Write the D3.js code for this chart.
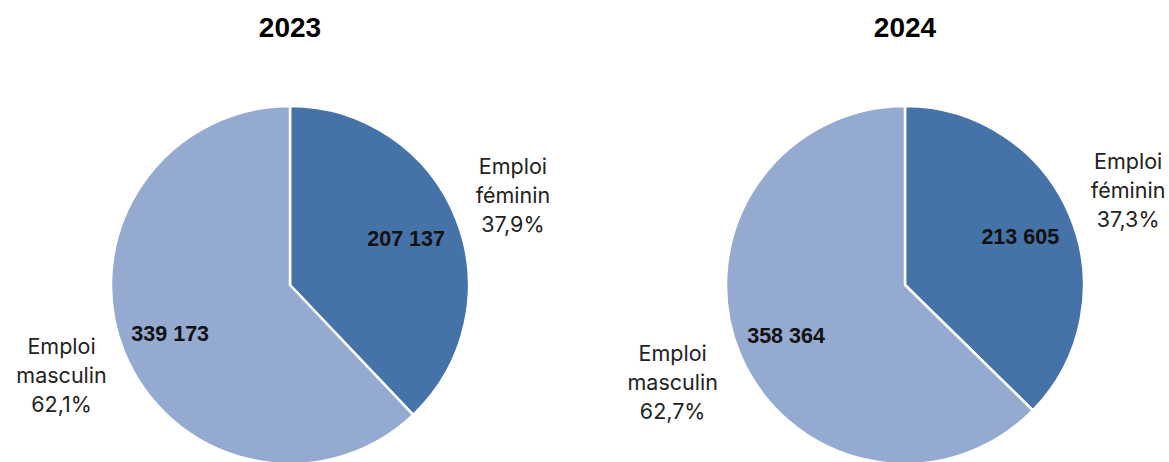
<!DOCTYPE html>
<html><head><meta charset="utf-8">
<script src="https://cdn.jsdelivr.net/npm/d3@7"></script>
<style>body{margin:0;background:#fff}svg{display:block}</style>
</head><body>
<svg id="c" width="1169" height="462"></svg>
<script>
const years = ["2023", "2024"];
const categories = ["Emploi féminin", "Emploi masculin"];
const labelLines = [["Emploi", "féminin"], ["Emploi", "masculin"]];
const values2023 = [207137, 339173];
const values2024 = [213605, 358364];
const seriesValues = [values2023, values2024];
const colors = ["#4573a8", "#95aad1"];

const W = 1169, H = 462;
const svg = d3.select("#c");
const cx = d3.scalePoint().domain(years).range([290, 905]);
const R = 179, cy = 285;
const fmtNum = v => d3.format(",")(v).replace(/,/g, " ");
const fmtPct = p => d3.format(".1f")(p * 100).replace(".", ",") + "%";

const pie = d3.pie().sort(null).value(d => d);
const arc = d3.arc().innerRadius(0).outerRadius(R);
const inR = [125, 129];
const outR = [[240, 246], [242, 252]];

years.forEach((y, yi) => {
  const vals = seriesValues[yi];
  const total = d3.sum(vals);
  const g = svg.append("g").attr("transform", `translate(${cx(y)},${cy})`);
  svg.append("text").attr("x", cx(y)).attr("y", 37).attr("text-anchor", "middle")
    .attr("font-family", "Liberation Sans, Arial, sans-serif").attr("font-weight", "bold")
    .attr("font-size", 28).attr("fill", "#000").text(y);
  const arcs = pie(vals);
  g.selectAll("path").data(arcs).join("path")
    .attr("d", arc).attr("fill", (d, i) => colors[i])
    .attr("stroke", "#fff").attr("stroke-width", 2.5).attr("stroke-linejoin", "round");
  g.selectAll("text.val").data(arcs).join("text").attr("class", "val")
    .attr("transform", (d, i) => `translate(${d3.arc().innerRadius(inR[i]).outerRadius(inR[i]).centroid(d)})`)
    .attr("text-anchor", "middle").attr("dy", "0.36em")
    .attr("font-family", "Liberation Sans, Arial, sans-serif").attr("font-weight", "bold")
    .attr("font-size", 21.5).attr("fill", "#111").text(d => fmtNum(d.data));
  arcs.forEach((d, i) => {
    const a = d3.arc().innerRadius(outR[yi][i]).outerRadius(outR[yi][i]);
    const [x, yy] = a.centroid(d);
    const t = g.append("text").attr("text-anchor", "middle")
      .attr("font-family", "Inter, Noto Sans, sans-serif").attr("font-size", 21.5).attr("fill", "#222");
    const lines = [...labelLines[i], fmtPct(d.data / total)];
    lines.forEach((ln, k) => {
      t.append("tspan").attr("x", x).attr("y", yy + (k - 1) * 29 + 7).text(ln);
    });
  });
});
</script>
</body></html>
